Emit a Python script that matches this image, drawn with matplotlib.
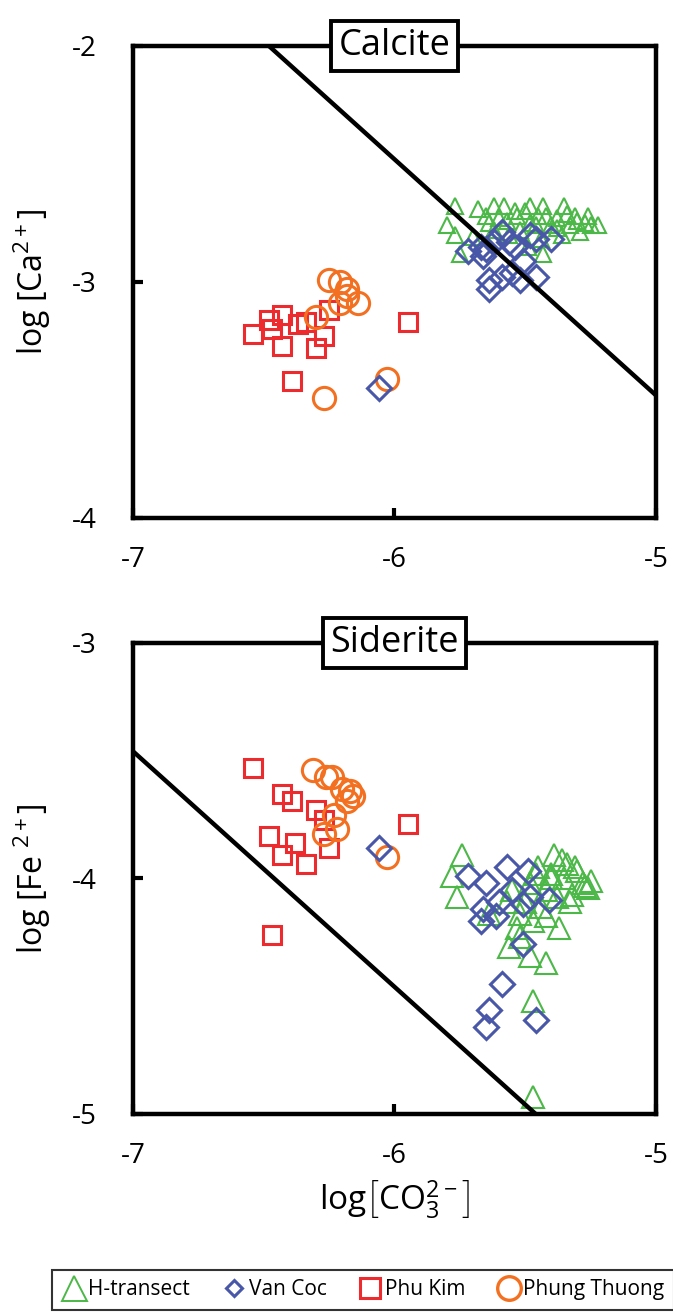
import matplotlib
matplotlib.use("Agg")
import matplotlib.pyplot as plt
from matplotlib.lines import Line2D

plt.rcParams['font.family'] = ['Open Sans', 'DejaVu Sans']
plt.rcParams['mathtext.fontset'] = 'custom'
plt.rcParams['mathtext.rm'] = 'Open Sans'
plt.rcParams['mathtext.it'] = 'Open Sans:italic'
plt.rcParams['axes.unicode_minus'] = False

# colours
c_h = '#4cb848'
c_vc = '#4857a8'
c_pk = '#ed2a2e'
c_pt = '#f37021'

# ---- Calcite panel: log CO3(2-) vs log Ca(2+) ----
cal_h_x = [-5.77, -5.68, -5.62, -5.58, -5.48, -5.43, -5.35, -5.25, -5.27, -5.30,
           -5.33, -5.38, -5.42, -5.45, -5.50, -5.53, -5.57, -5.60, -5.64, -5.80,
           -5.77, -5.75, -5.43, -5.49, -5.44, -5.36, -5.29, -5.54, -5.52, -5.70,
           -5.40, -5.46, -5.31, -5.22, -5.26, -5.34, -5.56, -5.65, -5.62, -5.38, -5.48]
cal_h_y = [-2.68, -2.69, -2.68, -2.68, -2.68, -2.68, -2.68, -2.76, -2.75, -2.74,
           -2.76, -2.73, -2.72, -2.72, -2.70, -2.72, -2.74, -2.73, -2.75, -2.76,
           -2.80, -2.88, -2.88, -2.85, -2.82, -2.80, -2.79, -2.70, -2.78, -2.81,
           -2.76, -2.76, -2.72, -2.76, -2.72, -2.71, -2.80, -2.72, -2.78, -2.77, -2.75]
cal_vc_x = [-5.72, -5.67, -5.65, -5.66, -5.59, -5.56, -5.54, -5.48, -5.46, -5.40,
            -5.51, -5.55, -5.59, -5.64, -5.64, -5.52, -5.46, -5.62, -6.06]
cal_vc_y = [-2.87, -2.85, -2.86, -2.89, -2.79, -2.83, -2.85, -2.80, -2.82, -2.82,
            -2.91, -2.96, -2.98, -2.99, -3.03, -2.99, -2.98, -2.83, -3.45]
cal_pk_x = [-6.54, -6.48, -6.43, -6.43, -6.37, -6.34, -6.27, -6.30, -6.25, -5.95, -6.39, -6.47]
cal_pk_y = [-3.22, -3.16, -3.14, -3.27, -3.18, -3.17, -3.23, -3.28, -3.12, -3.17, -3.42, -3.20]
cal_pt_x = [-6.25, -6.21, -6.18, -6.14, -6.18, -6.21, -6.30, -6.27, -6.03]
cal_pt_y = [-2.99, -3.00, -3.03, -3.09, -3.06, -3.09, -3.15, -3.49, -3.41]
cal_logk = -8.48

# ---- Siderite panel: log CO3(2-) vs log Fe(2+) ----
sid_h_x = [-5.74, -5.78, -5.76, -5.64, -5.56, -5.52, -5.48, -5.42, -5.47, -5.47,
           -5.39, -5.34, -5.25, -5.27, -5.32, -5.37, -5.42, -5.47, -5.53,
           -5.45, -5.40, -5.35, -5.30, -5.42, -5.38, -5.33, -5.48, -5.50, -5.44,
           -5.28, -5.36, -5.40, -5.46, -5.55, -5.26, -5.31, -5.52, -5.57]
sid_h_y = [-3.90, -3.99, -4.08, -4.15, -4.29, -4.25, -4.33, -4.36, -4.52, -4.93,
           -3.90, -3.94, -4.01, -4.03, -4.07, -4.21, -4.16, -4.18, -4.21,
           -3.95, -3.98, -4.00, -3.97, -4.05, -4.08, -4.10, -4.02, -4.10, -4.12,
           -4.02, -3.92, -4.00, -3.98, -4.05, -4.04, -3.95, -4.15, -4.10]
sid_vc_x = [-5.72, -5.65, -5.57, -5.49, -5.55, -5.66, -5.67, -5.61, -5.51, -5.48,
            -5.41, -5.60, -5.51, -5.59, -5.64, -5.65, -5.46, -6.06]
sid_vc_y = [-3.99, -4.02, -3.95, -3.97, -4.05, -4.13, -4.18, -4.16, -4.11, -4.08,
            -4.09, -4.10, -4.28, -4.45, -4.56, -4.63, -4.60, -3.87]
sid_pk_x = [-6.54, -6.43, -6.39, -6.30, -6.27, -6.48, -6.38, -6.43, -6.34, -6.25, -5.95, -6.47]
sid_pk_y = [-3.53, -3.64, -3.67, -3.71, -3.75, -3.82, -3.85, -3.90, -3.94, -3.87, -3.77, -4.24]
sid_pt_x = [-6.31, -6.26, -6.24, -6.20, -6.17, -6.16, -6.18, -6.23, -6.22, -6.27, -6.03]
sid_pt_y = [-3.54, -3.57, -3.57, -3.62, -3.63, -3.65, -3.67, -3.73, -3.79, -3.81, -3.91]
sid_logk = -10.46

fig = plt.figure(figsize=(6.73, 13.13), dpi=100)
ax1 = fig.add_axes([0.1976, 0.6055, 0.777, 0.3595])
ax2 = fig.add_axes([0.1976, 0.1516, 0.777, 0.3587])


def draw_panel(ax, hx, hy, vx, vy, px, py, tx, ty, logk, ylim, tri_ms, name, ylabel):
    ax.plot(hx, hy, '^', ms=tri_ms, mfc='none', mec=c_h, mew=1.5, ls='none', zorder=3)
    ax.plot(vx, vy, 'D', ms=12, mfc='none', mec=c_vc, mew=2.2, ls='none', zorder=4)
    ax.plot(px, py, 's', ms=13, mfc='none', mec=c_pk, mew=2.2, ls='none', zorder=3)
    ax.plot(tx, ty, 'o', ms=16, mfc='none', mec=c_pt, mew=2.2, ls='none', zorder=3)
    # equilibrium line log a + log CO3 = log K
    lx = [-7, -5]
    ax.plot(lx, [logk - v for v in lx], color='black', lw=3.2, zorder=5)
    ax.set_xlim(-7, -5)
    ax.set_ylim(*ylim)
    ax.set_xticks([-7, -6, -5])
    ax.set_yticks([ylim[0], (ylim[0] + ylim[1]) / 2, ylim[1]])
    ax.set_yticklabels(['%g' % ylim[0], '%g' % ((ylim[0] + ylim[1]) / 2), '%g' % ylim[1]])
    ax.tick_params(direction='in', length=7, width=3, labelsize=20, pad=20)
    ax.tick_params(axis='y', pad=26)
    for sp in ax.spines.values():
        sp.set_linewidth(3.2)
        sp.set_zorder(6)
    ax.set_ylabel(ylabel, fontsize=23, labelpad=14)
    ax.text(0.5, 1.0, name, transform=ax.transAxes, ha='center', va='center',
            fontsize=26, zorder=10,
            bbox=dict(boxstyle='square,pad=0.2', fc='white', ec='black', lw=2.8))


draw_panel(ax1, cal_h_x, cal_h_y, cal_vc_x, cal_vc_y, cal_pk_x, cal_pk_y,
           cal_pt_x, cal_pt_y, cal_logk, (-4, -2), 11.5, 'Calcite',
           r'log [Ca$^{\mathrm{2+}}$]')
draw_panel(ax2, sid_h_x, sid_h_y, sid_vc_x, sid_vc_y, sid_pk_x, sid_pk_y,
           sid_pt_x, sid_pt_y, sid_logk, (-5, -3), 16, 'Siderite',
           r'log [Fe $^{\mathrm{2+}}$]')
ax2.set_xlabel(r'log$\left[\mathrm{CO}_{\mathrm{3}}^{\mathrm{2-}}\right]$', fontsize=24, labelpad=6)

handles = [
    Line2D([], [], marker='^', ms=18, mfc='none', mec=c_h, mew=1.4, ls='none'),
    Line2D([], [], marker='D', ms=8, mfc='none', mec=c_vc, mew=2.2, ls='none'),
    Line2D([], [], marker='s', ms=14, mfc='none', mec=c_pk, mew=2.2, ls='none'),
    Line2D([], [], marker='o', ms=17, mfc='none', mec=c_pt, mew=2.4, ls='none'),
]
labels = ['H-transect', 'Van Coc', 'Phu Kim', 'Phung Thuong']
leg = fig.legend(handles, labels, loc='upper left', bbox_to_anchor=(52 / 673, 1 - 1270 / 1313),
                 ncol=4, fontsize=15, frameon=True, fancybox=False, edgecolor='black',
                 handletextpad=0.1, columnspacing=1.5, handlelength=1.2,
                 borderpad=0.45, borderaxespad=0.0, bbox_transform=fig.transFigure)
leg.get_frame().set_linewidth(1.5)

fig.savefig('out.png', dpi=100)
